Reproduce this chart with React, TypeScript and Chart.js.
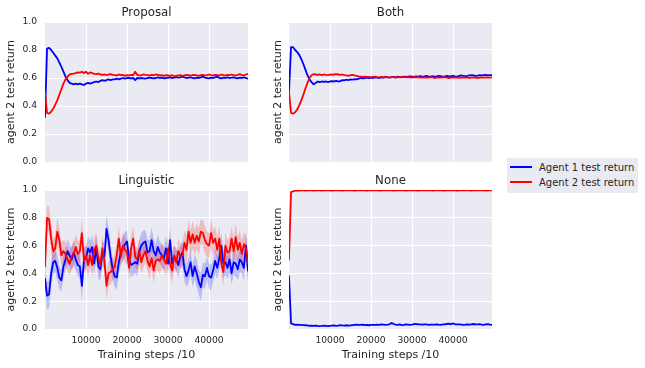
import React, { useEffect, useRef } from 'react';
import { Chart, registerables } from 'chart.js';

Chart.register(...registerables);

// ---------- data ----------
const STEP = 500;
const X_TICKS = [10000, 20000, 30000, 40000];
const Y_TICKS = [0, 0.2, 0.4, 0.6, 0.8, 1.0];
const X_MAX = 49500;

const proposalAgent1 = [
  0.32, 0.81, 0.815, 0.8, 0.78, 0.76, 0.74, 0.71, 0.68, 0.645,
  0.61, 0.585, 0.565, 0.56, 0.555, 0.56, 0.555, 0.56, 0.555, 0.55,
  0.56, 0.565, 0.56, 0.565, 0.57, 0.575, 0.57, 0.58, 0.585, 0.58,
  0.585, 0.59, 0.585, 0.59, 0.59, 0.595, 0.59, 0.595, 0.6, 0.595,
  0.6, 0.6, 0.598, 0.6, 0.585, 0.6, 0.597, 0.6, 0.598, 0.596,
  0.6, 0.603, 0.6, 0.598, 0.6, 0.605, 0.6, 0.602, 0.598, 0.6,
  0.603, 0.605, 0.6, 0.603, 0.607, 0.603, 0.605, 0.61, 0.605, 0.6,
  0.603, 0.605, 0.6, 0.598, 0.603, 0.6, 0.605, 0.61, 0.603, 0.6,
  0.598, 0.603, 0.6, 0.605, 0.61, 0.6, 0.598, 0.603, 0.6, 0.605,
  0.6, 0.602, 0.605, 0.6, 0.598, 0.603, 0.6, 0.605, 0.6, 0.595,
];
const proposalAgent2 = [
  0.5, 0.35, 0.345, 0.36, 0.38, 0.41, 0.44, 0.48, 0.52, 0.56,
  0.59, 0.61, 0.625, 0.63, 0.632, 0.635, 0.64, 0.638, 0.645, 0.635,
  0.645, 0.63, 0.64, 0.635, 0.63, 0.628, 0.632, 0.625, 0.622, 0.625,
  0.62, 0.625, 0.628, 0.622, 0.62, 0.618, 0.625, 0.62, 0.622, 0.615,
  0.62, 0.618, 0.622, 0.62, 0.645, 0.622, 0.618, 0.62, 0.625, 0.622,
  0.62, 0.618, 0.623, 0.62, 0.625, 0.622, 0.618, 0.62, 0.615, 0.62,
  0.618, 0.615, 0.62, 0.612, 0.615, 0.618, 0.62, 0.615, 0.618, 0.622,
  0.62, 0.617, 0.62, 0.622, 0.618, 0.615, 0.62, 0.623, 0.618, 0.62,
  0.625, 0.62, 0.618, 0.622, 0.62, 0.618, 0.625, 0.62, 0.618, 0.623,
  0.62, 0.625, 0.62, 0.618, 0.622, 0.628, 0.62, 0.618, 0.625, 0.63,
];

const bothAgent1 = [
  0.5, 0.82, 0.82, 0.8, 0.785, 0.765, 0.735, 0.7, 0.66, 0.62,
  0.59, 0.57, 0.555, 0.565, 0.575, 0.57, 0.575, 0.572, 0.575, 0.57,
  0.575, 0.578, 0.575, 0.58, 0.575, 0.578, 0.585, 0.583, 0.588, 0.585,
  0.59, 0.588, 0.592, 0.59, 0.595, 0.6, 0.598, 0.6, 0.603, 0.6,
  0.603, 0.6, 0.605, 0.603, 0.6, 0.605, 0.603, 0.607, 0.605, 0.603,
  0.605, 0.608, 0.605, 0.61, 0.607, 0.605, 0.61, 0.608, 0.61, 0.612,
  0.61, 0.608, 0.612, 0.61, 0.613, 0.61, 0.612, 0.615, 0.612, 0.61,
  0.613, 0.61, 0.612, 0.615, 0.613, 0.61, 0.612, 0.615, 0.612, 0.613,
  0.615, 0.612, 0.61, 0.615, 0.618, 0.615, 0.613, 0.615, 0.618, 0.62,
  0.618, 0.615, 0.617, 0.62, 0.618, 0.62, 0.622, 0.618, 0.62, 0.62,
];
const bothAgent2 = [
  0.5, 0.35, 0.345, 0.355, 0.375, 0.405, 0.44, 0.48, 0.525, 0.565,
  0.6, 0.62, 0.628, 0.625, 0.622, 0.625, 0.62, 0.625, 0.622, 0.62,
  0.625, 0.622, 0.625, 0.628, 0.625, 0.622, 0.625, 0.62, 0.618, 0.615,
  0.62, 0.622, 0.618, 0.615, 0.612, 0.61, 0.608, 0.61, 0.607, 0.608,
  0.605, 0.608, 0.61, 0.607, 0.605, 0.608, 0.605, 0.61, 0.607, 0.605,
  0.608, 0.605, 0.603, 0.607, 0.605, 0.61, 0.606, 0.604, 0.607, 0.605,
  0.603, 0.606, 0.604, 0.607, 0.603, 0.605, 0.602, 0.605, 0.603, 0.606,
  0.604, 0.6, 0.603, 0.605, 0.602, 0.604, 0.606, 0.603, 0.6, 0.603,
  0.605, 0.602, 0.604, 0.601, 0.603, 0.605, 0.602, 0.604, 0.6, 0.603,
  0.605, 0.602, 0.6, 0.603, 0.605, 0.602, 0.604, 0.603, 0.602, 0.605,
];

const linguisticAgent1 = [
  0.36, 0.24, 0.25, 0.4, 0.48, 0.49, 0.44, 0.37, 0.35, 0.45,
  0.5, 0.56, 0.53, 0.5, 0.55, 0.5, 0.46, 0.45, 0.31, 0.5,
  0.51, 0.58, 0.55, 0.59, 0.47, 0.59, 0.45, 0.43, 0.55, 0.52,
  0.72, 0.64, 0.52, 0.43, 0.38, 0.37, 0.48, 0.55, 0.58, 0.61,
  0.63, 0.5, 0.46, 0.47, 0.48, 0.47, 0.56, 0.6, 0.62, 0.63,
  0.55, 0.56, 0.64, 0.56, 0.53, 0.59, 0.55, 0.53, 0.51, 0.58,
  0.47, 0.64, 0.47, 0.52, 0.5, 0.46, 0.52, 0.55, 0.43, 0.38,
  0.42, 0.48, 0.38, 0.45, 0.4, 0.34, 0.3, 0.39, 0.38, 0.44,
  0.38, 0.37, 0.42, 0.49, 0.44, 0.51, 0.6, 0.47, 0.48, 0.44,
  0.5, 0.4, 0.48, 0.47, 0.43, 0.5, 0.48, 0.44, 0.6, 0.42,
];
const linguisticAgent1Spread = [
  0.07, 0.1, 0.1, 0.09, 0.09, 0.08, 0.09, 0.08, 0.08, 0.08,
  0.08, 0.09, 0.08, 0.08, 0.09, 0.08, 0.08, 0.09, 0.1, 0.09,
  0.08, 0.09, 0.08, 0.09, 0.09, 0.08, 0.09, 0.08, 0.09, 0.09,
  0.1, 0.09, 0.09, 0.08, 0.08, 0.09, 0.08, 0.08, 0.09, 0.09,
  0.08, 0.08, 0.09, 0.08, 0.08, 0.09, 0.08, 0.09, 0.09, 0.08,
  0.09, 0.08, 0.09, 0.09, 0.08, 0.09, 0.08, 0.08, 0.09, 0.09,
  0.08, 0.09, 0.09, 0.08, 0.08, 0.09, 0.08, 0.09, 0.09, 0.08,
  0.09, 0.09, 0.08, 0.09, 0.1, 0.09, 0.1, 0.09, 0.09, 0.08,
  0.09, 0.09, 0.08, 0.09, 0.08, 0.09, 0.09, 0.1, 0.09, 0.08,
  0.09, 0.08, 0.09, 0.09, 0.08, 0.09, 0.08, 0.09, 0.1, 0.09,
];
const linguisticAgent2 = [
  0.45, 0.8, 0.79, 0.65, 0.56, 0.58, 0.7, 0.64, 0.53, 0.56,
  0.54, 0.5, 0.47, 0.52, 0.54, 0.59, 0.54, 0.56, 0.69, 0.49,
  0.53, 0.46, 0.53, 0.46, 0.57, 0.6, 0.51, 0.46, 0.58, 0.49,
  0.31, 0.4, 0.41, 0.43, 0.45, 0.53, 0.65, 0.52, 0.6, 0.57,
  0.55, 0.44, 0.58, 0.65, 0.52, 0.5, 0.56, 0.48, 0.53, 0.56,
  0.49, 0.45, 0.51, 0.42, 0.49, 0.5, 0.49, 0.53, 0.5, 0.47,
  0.58, 0.47, 0.42, 0.53, 0.48, 0.56, 0.52, 0.53, 0.62, 0.57,
  0.7, 0.62, 0.68, 0.62, 0.67, 0.63, 0.7, 0.69, 0.64, 0.61,
  0.6, 0.69, 0.62, 0.65, 0.57, 0.65, 0.47, 0.41, 0.6, 0.55,
  0.56, 0.65, 0.56, 0.66, 0.57, 0.62, 0.54, 0.61, 0.58, 0.47,
];
const linguisticAgent2Spread = [
  0.08, 0.09, 0.09, 0.1, 0.09, 0.09, 0.1, 0.09, 0.09, 0.08,
  0.09, 0.08, 0.09, 0.09, 0.08, 0.09, 0.09, 0.08, 0.1, 0.09,
  0.09, 0.08, 0.09, 0.08, 0.09, 0.09, 0.08, 0.09, 0.09, 0.08,
  0.1, 0.09, 0.09, 0.08, 0.09, 0.09, 0.09, 0.08, 0.09, 0.09,
  0.08, 0.09, 0.09, 0.09, 0.08, 0.08, 0.09, 0.08, 0.09, 0.08,
  0.08, 0.09, 0.08, 0.09, 0.08, 0.08, 0.09, 0.09, 0.08, 0.09,
  0.09, 0.08, 0.09, 0.09, 0.08, 0.09, 0.09, 0.08, 0.09, 0.1,
  0.09, 0.09, 0.1, 0.09, 0.09, 0.1, 0.09, 0.09, 0.1, 0.09,
  0.09, 0.1, 0.09, 0.09, 0.09, 0.1, 0.09, 0.1, 0.09, 0.09,
  0.1, 0.09, 0.09, 0.1, 0.09, 0.09, 0.1, 0.09, 0.09, 0.1,
];

const noneAgent1 = [
  0.38, 0.04, 0.035, 0.03, 0.032, 0.03, 0.03, 0.028, 0.027, 0.026,
  0.022, 0.024, 0.023, 0.025, 0.022, 0.02, 0.022, 0.025, 0.023, 0.02,
  0.022, 0.024, 0.026, 0.022, 0.024, 0.028, 0.026, 0.025, 0.027, 0.024,
  0.026, 0.028, 0.03, 0.032, 0.029, 0.03, 0.031, 0.028, 0.03, 0.027,
  0.029, 0.03, 0.029, 0.031, 0.03, 0.033, 0.032, 0.03, 0.031, 0.034,
  0.044, 0.036, 0.032, 0.03, 0.033, 0.028, 0.03, 0.034, 0.032, 0.03,
  0.031, 0.035, 0.036, 0.034, 0.033, 0.032, 0.034, 0.033, 0.03, 0.032,
  0.031, 0.032, 0.033, 0.031, 0.03, 0.033, 0.034, 0.036, 0.038, 0.034,
  0.04, 0.034, 0.033, 0.034, 0.032, 0.03, 0.031, 0.033, 0.032, 0.034,
  0.036, 0.034, 0.033, 0.035, 0.032, 0.03, 0.033, 0.035, 0.031, 0.03,
];
const noneAgent2 = [
  0.5, 0.985, 0.99, 0.995, 0.997, 0.996, 0.998, 0.997, 0.996, 0.998,
  0.997, 0.998, 0.996, 0.997, 0.998, 0.997, 0.996, 0.998, 0.997, 0.998,
  0.997, 0.996, 0.998, 0.997, 0.998, 0.997, 0.996, 0.997, 0.998, 0.997,
  0.998, 0.997, 0.996, 0.998, 0.997, 0.998, 0.997, 0.998, 0.996, 0.997,
  0.998, 0.997, 0.998, 0.997, 0.996, 0.998, 0.997, 0.998, 0.997, 0.998,
  0.997, 0.996, 0.998, 0.997, 0.998, 0.997, 0.998, 0.996, 0.997, 0.998,
  0.997, 0.998, 0.997, 0.996, 0.998, 0.997, 0.998, 0.997, 0.998, 0.997,
  0.996, 0.998, 0.997, 0.998, 0.997, 0.998, 0.996, 0.997, 0.998, 0.997,
  0.998, 0.997, 0.996, 0.998, 0.997, 0.998, 0.997, 0.998, 0.997, 0.996,
  0.998, 0.997, 0.998, 0.997, 0.998, 0.997, 0.996, 0.998, 0.997, 0.998,
];

const LEGEND_LABELS = ['Agent 1 test return', 'Agent 2 test return'];
const X_TITLE = 'Training steps /10';
const Y_TITLE = 'agent 2 test return';

// ---------- styles ----------
const FONT = "'DejaVu Sans', sans-serif";
const TEXT = '#262626';
const BG = '#EAEAF2';
const BLUE = '#0000ff';
const RED = '#ff0000';
const BLUE_BAND = 'rgba(0,0,255,0.2)';
const RED_BAND = 'rgba(255,0,0,0.2)';

type Panel = {
  title: string;
  a1: number[];
  a2: number[];
  a1Spread?: number[];
  a2Spread?: number[];
  left: number;
  top: number;
  w: number;
  h: number;
  yW: number;
  padR: number;
  titleTop: number;
  xH: number;
  showX: boolean;
  showY: boolean;
  yTitlePad: number;
};

const PANELS: Panel[] = [
  { title: 'Proposal', a1: proposalAgent1, a2: proposalAgent2, left: 0, top: 0, w: 260, h: 170, yW: 45, padR: 12, titleTop: 5.5, xH: 8, showX: false, showY: true, yTitlePad: 4.9 },
  { title: 'Both', a1: bothAgent1, a2: bothAgent2, left: 260, top: 0, w: 240, h: 170, yW: 29, padR: 8, titleTop: 5.5, xH: 8, showX: false, showY: false, yTitlePad: 11.9 },
  { title: 'Linguistic', a1: linguisticAgent1, a2: linguisticAgent2, a1Spread: linguisticAgent1Spread, a2Spread: linguisticAgent2Spread, left: 0, top: 170, w: 260, h: 198, yW: 45, padR: 12, titleTop: 3.5, xH: 39, showX: true, showY: true, yTitlePad: 4.9 },
  { title: 'None', a1: noneAgent1, a2: noneAgent2, left: 260, top: 170, w: 240, h: 198, yW: 29, padR: 8, titleTop: 3.5, xH: 39, showX: true, showY: false, yTitlePad: 11.9 },
];

const toPoints = (vals: number[]) => vals.map((v, i) => ({ x: i * STEP, y: v }));
const offsetPoints = (vals: number[], spread: number[], sign: number) =>
  vals.map((v, i) => ({ x: i * STEP, y: v + sign * spread[i] }));

const bgPlugin = {
  id: 'plotBg',
  beforeDraw(chart: any) {
    const { ctx, chartArea: a } = chart;
    ctx.save();
    ctx.fillStyle = BG;
    ctx.fillRect(a.left, a.top, a.right - a.left, a.bottom - a.top);
    ctx.restore();
  },
};

function makeConfig(p: Panel): any {
  const datasets: any[] = [
    { label: LEGEND_LABELS[1], data: toPoints(p.a2), borderColor: RED, borderWidth: 1.8, pointRadius: 0, fill: false, order: 0 },
    { label: LEGEND_LABELS[0], data: toPoints(p.a1), borderColor: BLUE, borderWidth: 1.8, pointRadius: 0, fill: false, order: 1 },
  ];
  if (p.a1Spread && p.a2Spread) {
    datasets.push(
      { data: offsetPoints(p.a1, p.a1Spread, 1), borderWidth: 0, pointRadius: 0, fill: false, order: 3 },
      { data: offsetPoints(p.a1, p.a1Spread, -1), borderWidth: 0, pointRadius: 0, fill: '-1', backgroundColor: BLUE_BAND, order: 3 },
      { data: offsetPoints(p.a2, p.a2Spread, 1), borderWidth: 0, pointRadius: 0, fill: false, order: 2 },
      { data: offsetPoints(p.a2, p.a2Spread, -1), borderWidth: 0, pointRadius: 0, fill: '-1', backgroundColor: RED_BAND, order: 2 },
    );
  }
  return {
    type: 'line',
    data: { datasets },
    plugins: [bgPlugin],
    options: {
      animation: false,
      responsive: false,
      devicePixelRatio: 1,
      layout: { padding: { left: 0, right: p.padR, top: 0, bottom: 0 } },
      elements: { line: { tension: 0, borderCapStyle: 'round', borderJoinStyle: 'round' } },
      plugins: {
        legend: { display: false },
        tooltip: { enabled: false },
        title: {
          display: true,
          text: p.title,
          fullSize: false,
          color: TEXT,
          font: { family: FONT, size: 11.8, weight: 'normal', lineHeight: 1.2 },
          padding: { top: p.titleTop, bottom: 2.34 },
        },
      },
      scales: {
        x: {
          type: 'linear',
          min: 0,
          max: X_MAX,
          border: { display: false },
          grid: { color: '#ffffff', lineWidth: 1, drawTicks: false },
          ticks: {
            display: p.showX,
            color: TEXT,
            font: { family: FONT, size: 9.2 },
            padding: 6.2,
            maxRotation: 0,
            autoSkip: false,
            callback: (v: any) => String(v),
          },
          afterBuildTicks: (s: any) => {
            s.ticks = X_TICKS.map((v) => ({ value: v }));
          },
          afterFit: (s: any) => {
            s.height = p.xH;
            s.paddingLeft = 0;
            s.paddingRight = 0;
          },
          title: {
            display: p.showX,
            text: X_TITLE,
            color: TEXT,
            font: { family: FONT, size: 11, lineHeight: 1.2 },
            padding: { top: 0, bottom: 6.4 },
          },
        },
        y: {
          type: 'linear',
          min: 0,
          max: 1,
          border: { display: false },
          grid: { color: '#ffffff', lineWidth: 1, drawTicks: false },
          ticks: {
            display: p.showY,
            color: TEXT,
            font: { family: FONT, size: 9.2 },
            padding: 8,
            callback: (v: any) => Number(v).toFixed(1),
          },
          afterBuildTicks: (s: any) => {
            s.ticks = Y_TICKS.map((v) => ({ value: v }));
          },
          afterFit: (s: any) => {
            s.width = p.yW;
            s.paddingTop = 0;
            s.paddingBottom = 0;
          },
          title: {
            display: true,
            text: Y_TITLE,
            color: TEXT,
            font: { family: FONT, size: 11, lineHeight: 1.2 },
            padding: { top: p.yTitlePad, bottom: 0 },
          },
        },
      },
    },
  };
}

export default function App() {
  const canvases = useRef<(HTMLCanvasElement | null)[]>([]);

  useEffect(() => {
    const charts = PANELS.map((p, k) => new Chart(canvases.current[k] as HTMLCanvasElement, makeConfig(p)));
    return () => charts.forEach((c) => c.destroy());
  }, []);

  return (
    <div style={{ position: 'absolute', left: 0, top: 0, width: 645, height: 368, background: '#ffffff', overflow: 'hidden' }}>
      {PANELS.map((p, k) => (
        <canvas
          key={p.title}
          ref={(el) => {
            canvases.current[k] = el;
          }}
          width={p.w}
          height={p.h}
          style={{ position: 'absolute', left: p.left, top: p.top, width: p.w, height: p.h }}
        />
      ))}
      <div
        style={{
          position: 'absolute',
          left: 507,
          top: 158,
          width: 131,
          height: 35,
          background: BG,
          fontFamily: FONT,
          fontSize: 10,
          color: TEXT,
        }}
      >
        {LEGEND_LABELS.map((label, k) => (
          <div
            key={label}
            style={{
              position: 'absolute',
              left: 3,
              top: k === 0 ? 1.5 : 16.5,
              height: 15,
              display: 'flex',
              alignItems: 'center',
              whiteSpace: 'nowrap',
            }}
          >
            <span style={{ display: 'inline-block', width: 22, height: 2, background: k === 0 ? BLUE : RED, marginRight: 7 }} />
            <span>{label}</span>
          </div>
        ))}
      </div>
    </div>
  );
}
